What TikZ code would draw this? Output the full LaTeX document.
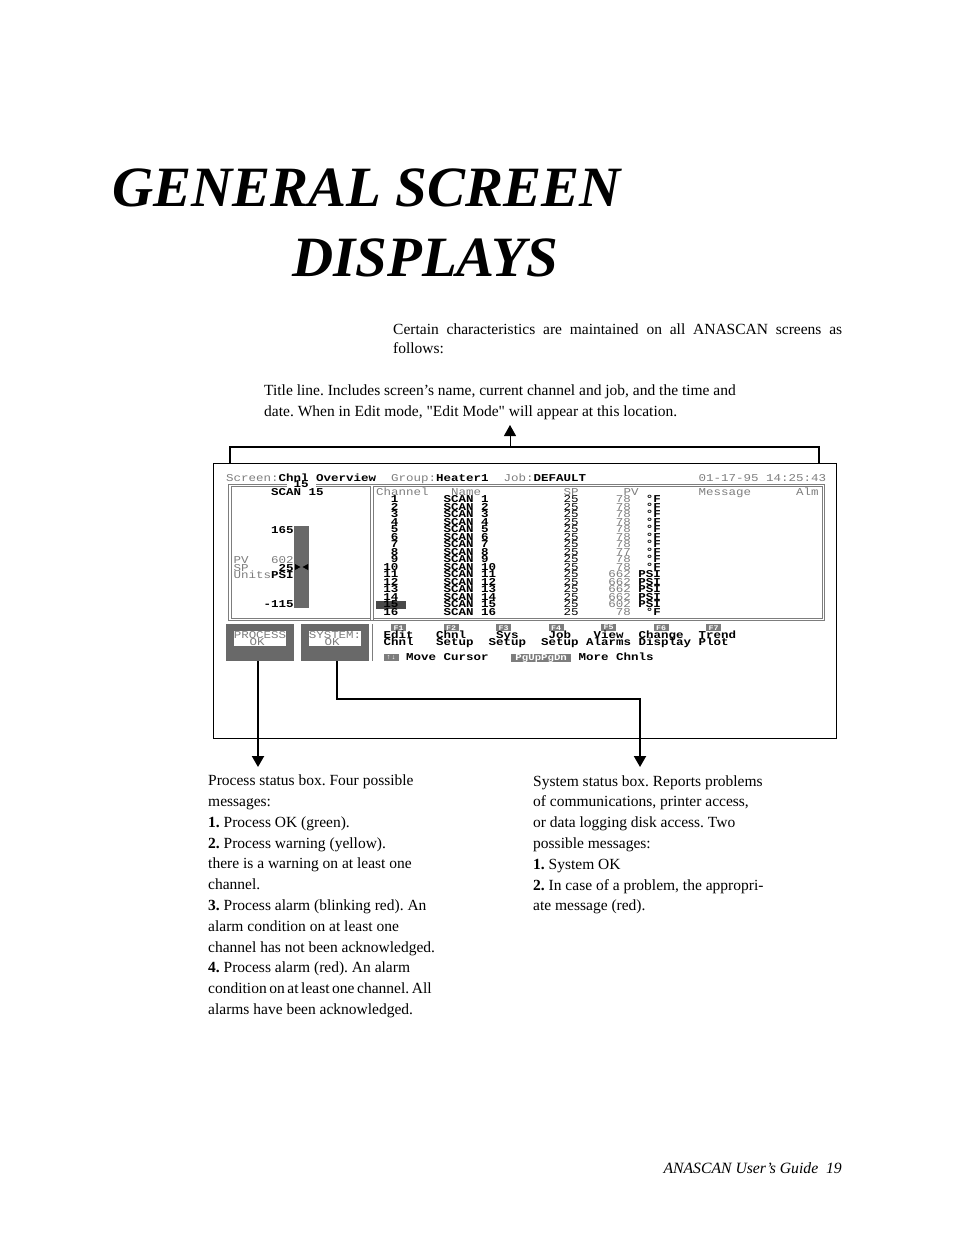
\documentclass[tikz,border=0pt]{standalone}
\usepackage{fontspec}
\usepackage{xcolor}
\usetikzlibrary{arrows.meta, positioning, calc}
\setmainfont[Ligatures=TeXOff]{Liberation Serif}
\newfontfamily\crtfont[FakeStretch=1.19]{Liberation Mono}
\definecolor{crtgray}{RGB}{105,105,105}
\definecolor{crtdim}{RGB}{125,125,125}
\tikzset{
    pagetext/.style={anchor=base west,inner sep=0pt,align=left,font=\fontsize{15.5}{20.8}\selectfont},
    crtbold/.style={anchor=base west,inner sep=0pt,text=black,font=\fontsize{10.5}{10.5}\crtfont\bfseries},
    crtdimtext/.style={anchor=base west,inner sep=0pt,text=crtdim,font=\fontsize{10.5}{10.5}\crtfont},
    crtframe/.style={draw=crtdim,line width=1.2pt,double=white,double distance=1.4pt},
    statusbox/.style={fill=crtgray,minimum width=68pt,minimum height=37pt,inner sep=0pt},
    statusinner/.style={fill=white,minimum width=52pt,minimum height=15pt,inner sep=0pt},
    keylabel/.style={anchor=north west,fill=crtdim,text=white,minimum height=7pt,inner sep=0pt,font=\fontsize{7}{7}\crtfont\bfseries},
    flowline/.style={draw=black,line width=2pt},
    tiptri/.tip={Triangle[width=12pt,length=11pt]},
}
\newcommand{\col}[1]{226+7.5*#1}
\begin{document}
\frenchspacing
\begin{tikzpicture}[x=1pt,y=-1pt]
    \useasboundingbox (0,0) rectangle (954,1235);

    % Titolo
    \node[anchor=base west,inner sep=0pt,font=\fontsize{57}{57}\selectfont\bfseries\itshape] (titleone) at (112,206) {GENERAL SCREEN};
    \node[anchor=base west,inner sep=0pt,font=\fontsize{57}{57}\selectfont\bfseries\itshape] (titletwo) at (292,276) {DISPLAYS};

    % Testo della pagina
    \node[pagetext,align=justify,text width=449pt,font=\fontsize{15.5}{19}\selectfont] (intro) at (393,334) {Certain characteristics are maintained on all ANASCAN screens as\linebreak follows:};
    \node[pagetext] (titlenote) at (264,416) {Title line. Includes screen’s name, current channel and job, and the time and\\date. When in Edit mode, "Edit Mode" will appear at this location.};
    \node[pagetext] (processnote) at (208,1014.5) {Process status box. Four possible\\messages:\\\textbf{1.} Process OK (green).\\\textbf{2.} Process warning (yellow).\\there is a warning on at least one\\channel.\\\textbf{3.} Process alarm (blinking red). An\\alarm condition on at least one\\channel has not been acknowledged.\\\textbf{4.} Process alarm (red). An alarm\\{\spaceskip=2.6pt condition on at least one channel. All}\\alarms have been acknowledged.};
    \node[pagetext] (systemnote) at (533,910.8) {System status box. Reports problems\\of communications, printer access,\\or data logging disk access. Two\\possible messages:\\\textbf{1.} System OK\\\textbf{2.} In case of a problem, the appropri-\\ate message (red).};
    \node[anchor=base east,inner sep=0pt,font=\fontsize{15.7}{15.7}\selectfont\itshape] (footer) at (842,1173) {ANASCAN User’s Guide\ \ 19};

    % Schermo
    \node[draw=black,line width=1pt,minimum width=623pt,minimum height=275.5pt,inner sep=0pt] (screen) at (524.5,601) {};
    \draw[line width=1pt] (screen.north east) -- (screen.south east);

    % Riga del titolo
    \node[crtdimtext] (scrlabel) at ({\col{0}},481) {Screen:};
    \node[crtbold] (scrname) at ({\col{7}},481) {Chnl Overview};
    \node[crtdimtext] (grouplabel) at ({\col{22}},481) {Group:};
    \node[crtbold] (groupname) at ({\col{28}},481) {Heater1};
    \node[crtdimtext] (joblabel) at ({\col{37}},481) {Job:};
    \node[crtbold] (jobname) at ({\col{41}},481) {DEFAULT};
    \node[crtdimtext] (datetime) at ({\col{63}},481) {01-17-95 14:25:43};

    % Cornici doppie
    \draw[crtframe] (230,485.5) rectangle (823.5,619.5);
    \draw[crtframe] (372,485.5) -- (372,619.5);

    % Pannello sinistro
    \node[crtbold,anchor=base,fill=white,inner xsep=7pt,inner ysep=0pt] (chnum) at (301,487.5) {15};
    \node[crtbold] (chname) at ({\col{6}},495) {SCAN 15};
    \node[fill=crtgray,minimum width=15pt,minimum height=82pt,inner sep=0pt] (bar) at (301.5,567) {};
    \node[crtbold] (barmax) at ({\col{6}},533.5) {165};
    \node[crtbold] (barmin) at ({\col{5}},607.5) {-115};
    \node[crtdimtext] (pvlabel) at ({\col{1}},563.5) {PV};
    \node[crtdimtext] (pvvalue) at ({\col{6}},563.5) {602};
    \node[crtdimtext] (splabel) at ({\col{1}},571) {SP};
    \node[crtbold] (spvalue) at ({\col{7}},571) {25};
    \node[crtdimtext] (unitslabel) at ({\col{1}},578.5) {Units};
    \node[crtbold] (unitsvalue) at ({\col{6}},578.5) {PSI};
    \fill (295,564) -- (300.5,567) -- (295,570) -- cycle;
    \fill (308,564) -- (302.5,567) -- (308,570) -- cycle;

    % Tabella dei canali
    \node[crtdimtext] (hchannel) at ({\col{20}},495.5) {Channel};
    \node[crtdimtext] (hname) at ({\col{30}},495.5) {Name};
    \node[crtdimtext] (hsp) at ({\col{45}},495.5) {SP};
    \node[crtdimtext] (hpv) at ({\col{53}},495.5) {PV};
    \node[crtdimtext] (hmessage) at ({\col{63}},495.5) {Message};
    \node[crtdimtext] (halm) at ({\col{76}},495.5) {Alm};
    \fill[crtgray!70!black] (376,601) rectangle (406,609);
    \foreach \n/\pv/\un in {1/78/\textdegree F,2/78/\textdegree F,3/78/\textdegree F,4/78/\textdegree F,5/78/\textdegree F,6/78/\textdegree F,7/78/\textdegree F,8/77/\textdegree F,9/78/\textdegree F,10/78/\textdegree F,11/662/PSI,12/662/PSI,13/662/PSI,14/662/PSI,15/602/PSI,16/78/\textdegree F}{
        \pgfmathsetmacro{\rowy}{502.5+7.53*(\n-1)}
        \node[crtbold,anchor=base east] (chan\n) at ({\col{23}},\rowy) {\n};
        \node[crtbold] (name\n) at ({\col{29}},\rowy) {SCAN \n};
        \node[crtdimtext,text=black] (sp\n) at ({\col{45}},\rowy) {25};
        \node[crtdimtext,anchor=base east] (pv\n) at ({\col{54}},\rowy) {\pv};
        \node[crtbold,anchor=base east] (unit\n) at ({\col{58}},\rowy) {\un};
    }

    % Caselle di stato
    \node[statusbox] (processbox) at (260,642.5) {};
    \node[statusinner] (processinner) at (260,638.5) {};
    \node[crtdimtext,anchor=base] (processtext) at (260,638.5) {PROCESS};
    \node[crtdimtext,anchor=base] (processok) at (257,645.5) {OK};
    \node[statusbox] (systembox) at (335,642.5) {};
    \node[statusinner] (systeminner) at (335,638.5) {};
    \node[crtdimtext,anchor=base] (systemtext) at (335,638.5) {SYSTEM:};
    \node[crtdimtext,anchor=base] (systemok) at (332,645.5) {OK};
    \draw[crtdim,line width=1pt] (372,624) -- (372,661);

    % Tasti funzione
    \foreach \k/\kc/\la/\lca/\lb/\lcb in {1/22/Edit/21/Chnl/21,2/29/Chnl/28/Setup/28,3/36/Sys/36/Setup/35,4/43/Job/43/Setup/42,5/50/View/49/Alarms/48,6/57/Change/55/Display/55,7/64/Trend/63/Plot/63}{
        \node[keylabel,minimum width=15pt] (fkey\k) at ({\col{\kc}},624) {F\k};
        \node[crtbold] (fup\k) at ({\col{\lca}},638.5) {\la};
        \node[crtbold] (fdown\k) at ({\col{\lcb}},645.5) {\lb};
    }
    \node[keylabel,minimum width=15pt] (arrowkey) at ({\col{21}},654) {↑↓};
    \node[crtbold] (movelabel) at ({\col{24}},660.5) {Move Cursor};
    \node[keylabel,minimum width=60pt,font=\fontsize{9}{9}\crtfont\bfseries] (pagekey) at ({\col{38}},654) {PgUpPgDn};
    \node[crtbold] (morelabel) at ({\col{47}},660.5) {More Chnls};

    % Frecce
    \coordinate (titlearrow) at (510,447);
    \coordinate (titletip) at (510,425);
    \coordinate (processend) at (258,767);
    \coordinate (systemturn) at (640,699);
    \coordinate (systemend) at (640,767);
    \draw[flowline] ([xshift=-295pt]screen.north) |- (titlearrow) -| ([xshift=294.5pt]screen.north);
    \draw[line width=1pt,-{tiptri}] (titlearrow) -- (titletip);
    \draw[flowline,-{tiptri}] (processend |- processbox.south) -- (processend);
    \draw[flowline,-{tiptri}] ([xshift=2pt]systembox.south) |- (systemturn) -- (systemend);
\end{tikzpicture}
\end{document}
